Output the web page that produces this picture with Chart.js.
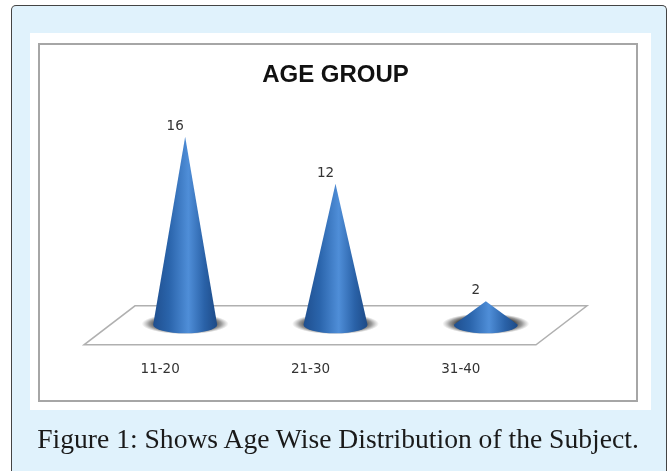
<!DOCTYPE html>
<html lang="en">
<head>
    <meta charset="UTF-8">
    <title>Age Group</title>
    <script src="https://cdn.jsdelivr.net/npm/chart.js"></script>
    <style>
        html, body { margin: 0; padding: 0; background: #fff; overflow: hidden; }
        .panel {
            position: absolute; left: 11px; top: 5px; width: 656px; height: 466px;
            box-sizing: border-box; background: #e0f2fc;
            border: 1px solid #444; border-bottom: none; border-radius: 5px 5px 0 0;
        }
        .sheet { position: absolute; left: 30px; top: 33px; width: 621px; height: 377px; background: #fff; }
        .frame { position: absolute; left: 38px; top: 43px; width: 600px; height: 359px; box-sizing: border-box; border: 2px solid #a6a6a6; }
        .caption {
            position: absolute; left: 11px; width: 654px; top: 423px; text-align: center;
            font-family: "Liberation Serif", serif; font-size: 27.6px; line-height: 32px; color: #1a1a1a;
        }
        canvas { position: absolute; left: 0; top: 0; }
    </style>
</head>
<body>
    <div class="panel"></div>
    <div class="sheet"></div>
    <div class="frame"></div>
    <canvas id="grafico" width="670" height="471"></canvas>
    <div class="caption">Figure 1: Shows Age Wise Distribution of the Subject.</div>

    <script>
        const categories = ["11-20", "21-30", "31-40"];
        const values = [16, 12, 2];
        const chartTitle = "AGE GROUP";

        // floor behind the cones, cones themselves are drawn from the bar elements
        const conos = {
            id: "conos",
            beforeDatasetsDraw(chart) {
                const a = chart.chartArea, c = chart.ctx;
                c.save();
                c.beginPath();
                c.moveTo(a.left - 26, a.bottom + 20);
                c.lineTo(a.right - 25, a.bottom + 20);
                c.lineTo(a.right + 26, a.bottom - 19);
                c.lineTo(a.left + 25, a.bottom - 19);
                c.closePath();
                c.fillStyle = "#fff";
                c.fill();
                c.strokeStyle = "#b0b0b0";
                c.lineWidth = 1.5;
                c.stroke();
                c.restore();
            },
            afterDatasetsDraw(chart) {
                const c = chart.ctx;
                chart.getDatasetMeta(0).data.forEach((bar, i) => {
                    const r = bar.width / 2, ry = 8.5;
                    const x = bar.x, top = bar.y, base = bar.base;

                    // shadow on the floor
                    c.save();
                    c.translate(x, base - 1);
                    c.scale(1, 0.24);
                    const s = c.createRadialGradient(0, 0, r * 0.9, 0, 0, r * 1.36);
                    s.addColorStop(0, "rgba(60,60,60,0.95)");
                    s.addColorStop(0.5, "rgba(90,90,90,0.6)");
                    s.addColorStop(1, "rgba(130,130,130,0)");
                    c.fillStyle = s;
                    c.beginPath();
                    c.arc(0, 0, r * 1.36, 0, Math.PI * 2);
                    c.fill();
                    c.restore();

                    // cone body
                    const g = c.createLinearGradient(x - r, 0, x + r, 0);
                    g.addColorStop(0, "#1f4f8f");
                    g.addColorStop(0.25, "#2a64ab");
                    g.addColorStop(0.55, "#4f8ed8");
                    g.addColorStop(0.8, "#2a62a8");
                    g.addColorStop(1, "#1d4a86");
                    c.beginPath();
                    c.moveTo(x, top);
                    c.lineTo(x + r, base);
                    c.ellipse(x, base, r, ry, 0, 0, Math.PI);
                    c.closePath();
                    c.fillStyle = g;
                    c.fill();

                    // value label
                    c.fillStyle = "#333";
                    c.font = "13.5px 'DejaVu Sans', sans-serif";
                    c.textAlign = "center";
                    c.textBaseline = "alphabetic";
                    c.fillText(values[i], x - 10, top - 7);
                });
            }
        };

        new Chart(document.getElementById("grafico"), {
            type: "bar",
            data: {
                labels: categories,
                datasets: [{ data: values, backgroundColor: "transparent", barThickness: 64 }]
            },
            options: {
                responsive: false,
                animation: false,
                layout: { padding: { left: 110, right: 109, top: 61, bottom: 64 } },
                plugins: {
                    legend: { display: false },
                    tooltip: { enabled: false },
                    title: {
                        display: true,
                        text: chartTitle,
                        color: "#111",
                        font: { family: "'Liberation Sans', sans-serif", size: 24, weight: "bold" },
                        padding: { top: 0, bottom: 47 }
                    }
                },
                scales: {
                    x: {
                        grid: { display: false },
                        border: { display: false },
                        ticks: {
                            color: "#333",
                            padding: 29,
                            labelOffset: -25,
                            font: { family: "'DejaVu Sans', sans-serif", size: 13.5 }
                        }
                    },
                    y: { display: false, min: 0, max: 16 }
                }
            },
            plugins: [conos]
        });
    </script>
</body>
</html>
